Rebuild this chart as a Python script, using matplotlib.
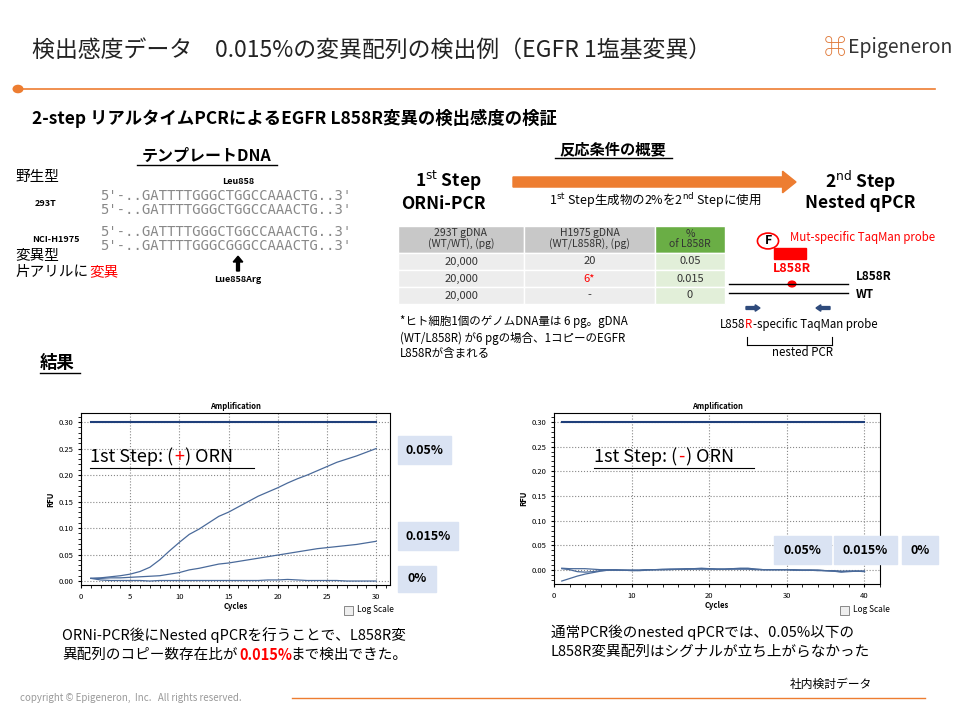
import matplotlib
matplotlib.use("Agg")
import matplotlib.pyplot as plt
from matplotlib.patches import Rectangle, FancyArrow, Circle

plt.rcParams["font.family"] = ["Noto Sans CJK JP", "DejaVu Sans"]

# ---- data ----
cycles_a = list(range(1, 31))
orn_005 = [0.005,0.006,0.008,0.010,0.013,0.018,0.026,0.040,0.057,0.073,0.088,0.098,0.110,0.122,0.130,
           0.140,0.150,0.160,0.168,0.176,0.185,0.193,0.200,0.208,0.216,0.224,0.230,0.236,0.243,0.250]
orn_0015 = [0.005,0.005,0.006,0.006,0.007,0.008,0.009,0.010,0.013,0.016,0.021,0.024,0.028,0.032,0.034,
            0.037,0.040,0.043,0.046,0.049,0.052,0.055,0.058,0.061,0.063,0.065,0.067,0.069,0.072,0.075]
orn_0 = [0.005,0.002,0.001,0.001,0.001,0.001,0.000,0.001,0.001,0.001,0.001,0.001,0.001,0.001,0.001,
         0.001,0.001,0.001,0.002,0.002,0.003,0.002,0.001,0.001,0.001,0.001,0.000,0.000,0.000,0.000]
cycles_b = list(range(1, 41))
noorn_005 = [-0.022,-0.017,-0.012,-0.008,-0.005,-0.002,0.000,0.000,0.000,0.000,0.000,0.001,0.001,0.001,0.002,
             0.002,0.002,0.003,0.003,0.003,0.002,0.002,0.003,0.003,0.003,0.002,0.001,0.001,0.001,0.001,
             0.001,0.000,0.000,0.000,-0.001,-0.002,-0.004,-0.003,-0.002,-0.003]
noorn_0015 = [0.004,0.003,0.003,0.003,0.002,0.001,0.001,0.001,0.000,0.000,0.000,0.001,0.001,0.002,0.002,
              0.002,0.003,0.003,0.004,0.003,0.002,0.002,0.003,0.004,0.004,0.002,0.001,0.001,0.001,0.001,
              0.000,0.000,0.000,-0.001,-0.001,-0.002,-0.003,-0.002,-0.002,-0.002]
noorn_0 = [0.003,0.001,-0.003,-0.004,-0.003,-0.001,0.000,0.000,0.000,-0.001,-0.001,0.000,0.001,0.001,0.001,
           0.002,0.002,0.002,0.002,0.002,0.002,0.002,0.002,0.002,0.002,0.001,0.001,0.001,0.001,0.001,
           0.000,0.000,0.000,0.000,-0.001,-0.001,-0.002,-0.002,-0.002,-0.002]
threshold = 0.30
table_header = ["293T gDNA\n(WT/WT), (pg)", "H1975 gDNA\n(WT/L858R), (pg)", "%\nof L858R"]
table_rows = [["20,000", "20", "0.05"], ["20,000", "6*", "0.015"], ["20,000", "-", "0"]]
seq = "5'-..GATTTTGGGCTGGCCAAACTG..3'"
seq_mut = "5'-..GATTTTGGGCGGGCCAAACTG..3'"

W, H = 960, 720
fig = plt.figure(figsize=(9.6, 7.2), dpi=100)
fig.patch.set_facecolor("white")
def T(x, y, s, **kw):
    kw.setdefault("va", "center")
    return fig.text(x / W, 1 - y / H, s, **kw)
def L(x0, x1, y0, y1, **kw):
    fig.add_artist(plt.Line2D([x0 / W, x1 / W], [1 - y0 / H, 1 - y1 / H], **kw))

# header
T(32, 50, "検出感度データ　0.015%の変異配列の検出例（EGFR 1塩基変異）", fontsize=16.5, color="#222222")
T(848, 48, "Epigeneron", fontsize=14, color="#333333")
T(824, 48, "⌘", fontsize=16, color="#E07A3A")
L(18, 935, 89, 89, color="#ED7D31", lw=1.2)
fig.add_artist(Circle((18 / W, 1 - 89 / H), 0.005, transform=fig.transFigure, color="#ED7D31"))
T(32, 118, "2-step リアルタイムPCRによるEGFR L858R変異の検出感度の検証", fontsize=12.5, fontweight="bold")

# template DNA
T(207, 156, "テンプレートDNA", fontsize=11.5, fontweight="bold", ha="center")
L(137, 277, 165, 165, color="black", lw=1)
T(15, 177, "野生型", fontsize=10.5)
T(35, 203, "293T", fontsize=6.5, fontweight="bold")
T(32, 240, "NCI-H1975", fontsize=6.5, fontweight="bold")
T(15, 256, "変異型", fontsize=10.5)
T(15, 272, "片アリルに", fontsize=10.5)
T(89, 272, "変異", fontsize=10.5, color="red")
T(238, 182, "Leu858", fontsize=6.5, fontweight="bold", ha="center")
for y, s in [(196, seq), (210, seq), (232, seq), (246, seq_mut)]:
    T(100, y, s, fontsize=10, family="DejaVu Sans Mono", color="#888888")
T(238, 280, "Lue858Arg", fontsize=6.5, fontweight="bold", ha="center")
fig.add_artist(FancyArrow(238 / W, 1 - 271 / H, 0, 9 / H, width=0.003, head_width=0.01, head_length=0.008,
                          transform=fig.transFigure, color="black"))

# reaction conditions
T(613, 149, "反応条件の概要", fontsize=11, fontweight="bold", ha="center")
L(555, 672, 158, 158, color="black", lw=1)
T(448, 181, r"1$^{\rm st}$ Step", fontsize=12.5, ha="center", fontweight="bold")
T(443, 204, "ORNi-PCR", fontsize=12.5, ha="center", fontweight="bold")
T(860, 181, r"2$^{\rm nd}$ Step", fontsize=12.5, ha="center", fontweight="bold")
T(860, 203, "Nested qPCR", fontsize=12.5, ha="center", fontweight="bold")
fig.add_artist(FancyArrow(513 / W, 1 - 182 / H, 283 / W, 0, width=0.014, head_width=0.03, head_length=0.014,
                          transform=fig.transFigure, color="#ED7D31", length_includes_head=True))
T(655, 201, r"1$^{\rm st}$ Step生成物の2%を2$^{\rm nd}$ Stepに使用", fontsize=9, ha="center")

col_x = [398, 524, 655, 725]
row_y = [226, 253, 270, 287, 304]
for i in range(3):
    for r in range(4):
        if r == 0:
            c = "#6AAE45" if i == 2 else "#C8C8C8"
        else:
            c = "#E2EFD9" if i == 2 else "#EDEDED"
        fig.add_artist(Rectangle((col_x[i] / W, 1 - row_y[r + 1] / H), (col_x[i + 1] - col_x[i]) / W,
                                 (row_y[r + 1] - row_y[r]) / H, transform=fig.transFigure,
                                 facecolor=c, edgecolor="white", lw=1))
for i, h in enumerate(table_header):
    cx = (col_x[i] + col_x[i + 1]) / 2
    T(cx, 239, h, fontsize=7.5, ha="center", color="#333333", linespacing=1.0)
for r, row in enumerate(table_rows):
    for i, v in enumerate(row):
        cx = (col_x[i] + col_x[i + 1]) / 2
        T(cx, (row_y[r + 1] + row_y[r + 2]) / 2, v, fontsize=8, ha="center",
          color="red" if v == "6*" else "#333333")
T(400, 322, "*ヒト細胞1個のゲノムDNA量は 6 pg。gDNA", fontsize=8.3)
T(400, 338, "(WT/L858R) が6 pgの場合、1コピーのEGFR", fontsize=8.3)
T(400, 354, "L858Rが含まれる", fontsize=8.3)

# probe schematic
fig.add_artist(Circle((768 / W, 1 - 241 / H), 0.011, transform=fig.transFigure, facecolor="white",
                      edgecolor="red", lw=1.2))
T(768, 241, "F", fontsize=9, fontweight="bold", ha="center")
T(790, 238, "Mut-specific TaqMan probe", fontsize=8.3, color="red")
fig.add_artist(Rectangle((774 / W, 1 - 259 / H), 32 / W, 11 / H, transform=fig.transFigure, color="red"))
T(792, 268, "L858R", fontsize=9, fontweight="bold", color="red", ha="center")
L(729, 848, 284, 284, color="black", lw=1)
L(729, 848, 293, 293, color="black", lw=1)
fig.add_artist(Circle((792 / W, 1 - 284 / H), 0.004, transform=fig.transFigure, color="red"))
T(856, 276, "L858R", fontsize=8.5, fontweight="bold")
T(856, 295, "WT", fontsize=8.5, fontweight="bold")
fig.add_artist(FancyArrow(746 / W, 1 - 308 / H, 14 / W, 0, width=0.004, head_width=0.009, head_length=0.005,
                          transform=fig.transFigure, color="#2F4B7C", length_includes_head=True))
fig.add_artist(FancyArrow(830 / W, 1 - 308 / H, -14 / W, 0, width=0.004, head_width=0.009, head_length=0.005,
                          transform=fig.transFigure, color="#2F4B7C", length_includes_head=True))
T(720, 325, "L858", fontsize=8.3)
T(745, 325, "R", fontsize=8.3, color="red")
T(753, 325, "-specific TaqMan probe", fontsize=8.3)
L(747, 747, 337, 345, color="black", lw=0.8)
L(747, 832, 345, 345, color="black", lw=0.8)
L(832, 832, 337, 345, color="black", lw=0.8)
T(803, 353, "nested PCR", fontsize=8.3, ha="center")

T(40, 363, "結果", fontsize=12.5, fontweight="bold")
L(40, 80, 373, 373, color="black", lw=1)

# amplification plots
def amp(ax, cycles, curves, xmax, xticks, ylim):
    ax.plot([cycles[0], cycles[-1]], [threshold, threshold], color="#1F3F7A", lw=1.5)
    for c in curves:
        ax.plot(cycles, c, color="#4A6A9A", lw=0.9)
    ax.set_xlim(0, xmax)
    ax.set_ylim(*ylim)
    ax.set_xticks(xticks)
    ax.set_yticks([0, 0.05, 0.10, 0.15, 0.20, 0.25, 0.30])
    ax.set_yticklabels(["0.00", "0.05", "0.10", "0.15", "0.20", "0.25", "0.30"])
    ax.grid(True, ls=":", color="#888888", lw=0.8)
    ax.tick_params(labelsize=5.5, length=2)
    ax.minorticks_on()
    ax.set_xlabel("Cycles", fontsize=5.5, fontweight="bold", labelpad=1)
    ax.set_ylabel("RFU", fontsize=5.5, fontweight="bold", labelpad=2)
    ax.set_title("Amplification", fontsize=5.5, fontweight="bold", pad=3)

ax1 = fig.add_axes([81 / W, 1 - 585 / H, 309 / W, 172 / H])
amp(ax1, cycles_a, [orn_005, orn_0015, orn_0], 31.4, [0, 5, 10, 15, 20, 25, 30], (-0.0075, 0.317))
ax2 = fig.add_axes([554 / W, 1 - 584 / H, 326 / W, 171 / H])
amp(ax2, cycles_b, [noorn_005, noorn_0015, noorn_0], 42, [0, 10, 20, 30, 40], (-0.028, 0.318))

for (x, y) in [(384, 610), (880, 610)]:
    fig.add_artist(Rectangle(((x - 40) / W, 1 - (y + 5) / H), 9 / W, 9 / H, transform=fig.transFigure,
                             facecolor="#EEEEEE", edgecolor="#777777", lw=0.6))
    T(x - 27, y, "Log Scale", fontsize=6)

T(90, 457, "1st Step: (", fontsize=13)
T(174, 457, "+", fontsize=13, color="red")
T(185, 457, ") ORN", fontsize=13)
L(90, 254, 468, 468, color="black", lw=0.8)
T(594, 457, "1st Step: (", fontsize=13)
T(678, 457, "-", fontsize=13, color="red")
T(686, 457, ") ORN", fontsize=13)
L(594, 754, 468, 468, color="black", lw=0.8)

def box(x0, y0, w, h, s):
    fig.add_artist(Rectangle((x0 / W, 1 - (y0 + h) / H), w / W, h / H, transform=fig.transFigure,
                             color="#DAE3F3"))
    T(x0 + w / 2, y0 + h / 2, s, fontsize=9, fontweight="bold", ha="center")
box(398, 436, 53, 28, "0.05%")
box(398, 522, 60, 28, "0.015%")
box(398, 566, 38, 26, "0%")
box(774, 536, 57, 28, "0.05%")
box(834, 536, 63, 28, "0.015%")
box(902, 536, 36, 28, "0%")

T(62, 635, "ORNi-PCR後にNested qPCRを行うことで、L858R変", fontsize=10.5)
T(62, 655, "異配列のコピー数存在比が", fontsize=10.5)
T(239, 655, "0.015%", fontsize=10.5, color="red", fontweight="bold")
T(290, 655, "まで検出できた。", fontsize=10.5)
T(551, 632, "通常PCR後のnested qPCRでは、0.05%以下の", fontsize=10.5)
T(551, 652, "L858R変異配列はシグナルが立ち上がらなかった", fontsize=10.5)
T(790, 684, "社内検討データ", fontsize=8.5)
T(20, 698, "copyright © Epigeneron,  Inc.   All rights reserved.", fontsize=7, color="#999999")
L(292, 925, 698, 698, color="#ED7D31", lw=1)

fig.savefig("out.png", dpi=100)
